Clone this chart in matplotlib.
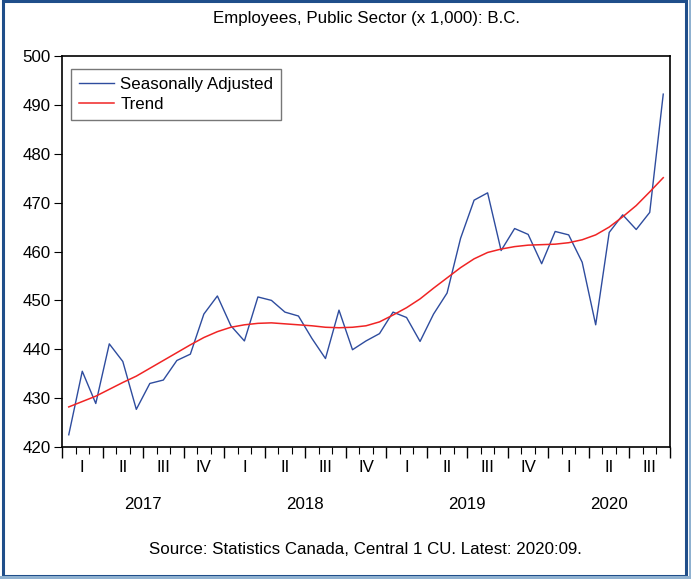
import matplotlib
matplotlib.use("Agg")
import matplotlib.pyplot as plt
import matplotlib.transforms as mtransforms
from matplotlib.patches import Rectangle
from matplotlib.ticker import MultipleLocator, FixedLocator

plt.rcParams['font.family'] = ['Liberation Sans', 'DejaVu Sans']

title = "Employees, Public Sector (x 1,000): B.C."
source = "Source: Statistics Canada, Central 1 CU. Latest: 2020:09."
years = ["2017", "2018", "2019", "2020"]
quarters = ["I", "II", "III", "IV"]

seasonally_adjusted = [
    422.5, 435.5, 428.9, 441.1, 437.5, 427.7, 433.0, 433.7, 437.7, 439.0, 447.2, 450.9,
    444.8, 441.7, 450.7, 450.0, 447.6, 446.8, 442.2, 438.1, 448.0, 439.9, 441.7, 443.2,
    447.6, 446.5, 441.6, 447.2, 451.5, 462.7, 470.5, 472.0, 460.2, 464.7, 463.5, 457.5,
    464.1, 463.4, 457.8, 445.0, 463.9, 467.5, 464.5, 468.0, 492.2,
]
trend = [
    428.2, 429.3, 430.4, 431.8, 433.2, 434.5, 436.1, 437.7, 439.3, 440.9, 442.4, 443.6,
    444.5, 445.0, 445.3, 445.4, 445.2, 445.0, 444.8, 444.5, 444.4, 444.5, 444.8, 445.6,
    447.0, 448.5, 450.3, 452.5, 454.6, 456.7, 458.5, 459.8, 460.5, 461.0, 461.3, 461.4,
    461.5, 461.8, 462.4, 463.4, 465.0, 467.1, 469.4, 472.2, 475.1,
]

n = len(seasonally_adjusted)
x = list(range(n))
FS = 12.2

W, H, DPI = 691, 579, 100
fig = plt.figure(figsize=(W / DPI, H / DPI), dpi=DPI)
fig.patch.set_facecolor("white")

# outer frame
fig.add_artist(Rectangle((2.5 / W, 1 - 575.5 / H), (686 - 2.5) / W, (575.5 - 1) / H,
                         transform=fig.transFigure, fill=False, edgecolor="#1F4E8A", lw=2.2))
fig.add_artist(Rectangle((689 / W, 0), 2 / W, 1, transform=fig.transFigure,
                         facecolor="#8FB1D0", edgecolor="none"))
fig.add_artist(Rectangle((0, 0), 1, 3 / H, transform=fig.transFigure,
                         facecolor="#8FB1D0", edgecolor="none"))

ax = fig.add_axes([62 / W, 1 - 447 / H, (670 - 62) / W, (447 - 56) / H])
ax.plot(x, seasonally_adjusted, color="#2E4C9E", lw=1.0, label="Seasonally Adjusted")
ax.plot(x, trend, color="#F02424", lw=1.1, label="Trend")

ax.set_xlim(-0.5, n - 0.5)
ax.set_ylim(420, 500)
ax.yaxis.set_major_locator(MultipleLocator(10))
ax.tick_params(axis="y", direction="out", length=6, width=0.8, labelsize=FS, pad=2)
ax.xaxis.set_major_locator(FixedLocator([q - 0.5 for q in range(0, n + 1, 3)]))
ax.xaxis.set_minor_locator(FixedLocator([m - 0.5 for m in range(0, n + 1)]))
ax.tick_params(axis="x", which="major", direction="out", length=8, width=1.0, labelbottom=False)
ax.tick_params(axis="x", which="minor", direction="out", length=5, width=0.8)
for s in ax.spines.values():
    s.set_linewidth(1.2)

trans = mtransforms.blended_transform_factory(ax.transData, ax.transAxes)
for qi in range(0, n // 3):
    ax.text(qi * 3 + 1, -0.053, quarters[qi % 4], transform=trans, ha="center", va="center",
            fontsize=FS)
for yi, yr in enumerate(years):
    start = yi * 12
    end = min(start + 12, n)
    ax.text((start + end - 1) / 2, -0.148, yr, transform=trans, ha="center", va="center",
            fontsize=FS)

leg = ax.legend(loc="upper left", bbox_to_anchor=(9 / 608, 1 - 13 / 391), fontsize=FS,
                frameon=True, fancybox=False, handlelength=2.1, borderpad=0.45,
                labelspacing=0.33, handletextpad=0.35, borderaxespad=0)
leg.get_frame().set_edgecolor("#555555")
leg.get_frame().set_linewidth(1.0)

fig.text(367 / W, 1 - 18 / H, title, ha="center", va="center", fontsize=FS)
fig.text(365 / W, 1 - 550 / H, source, ha="center", va="center", fontsize=FS)

fig.savefig("out.png", dpi=DPI)
